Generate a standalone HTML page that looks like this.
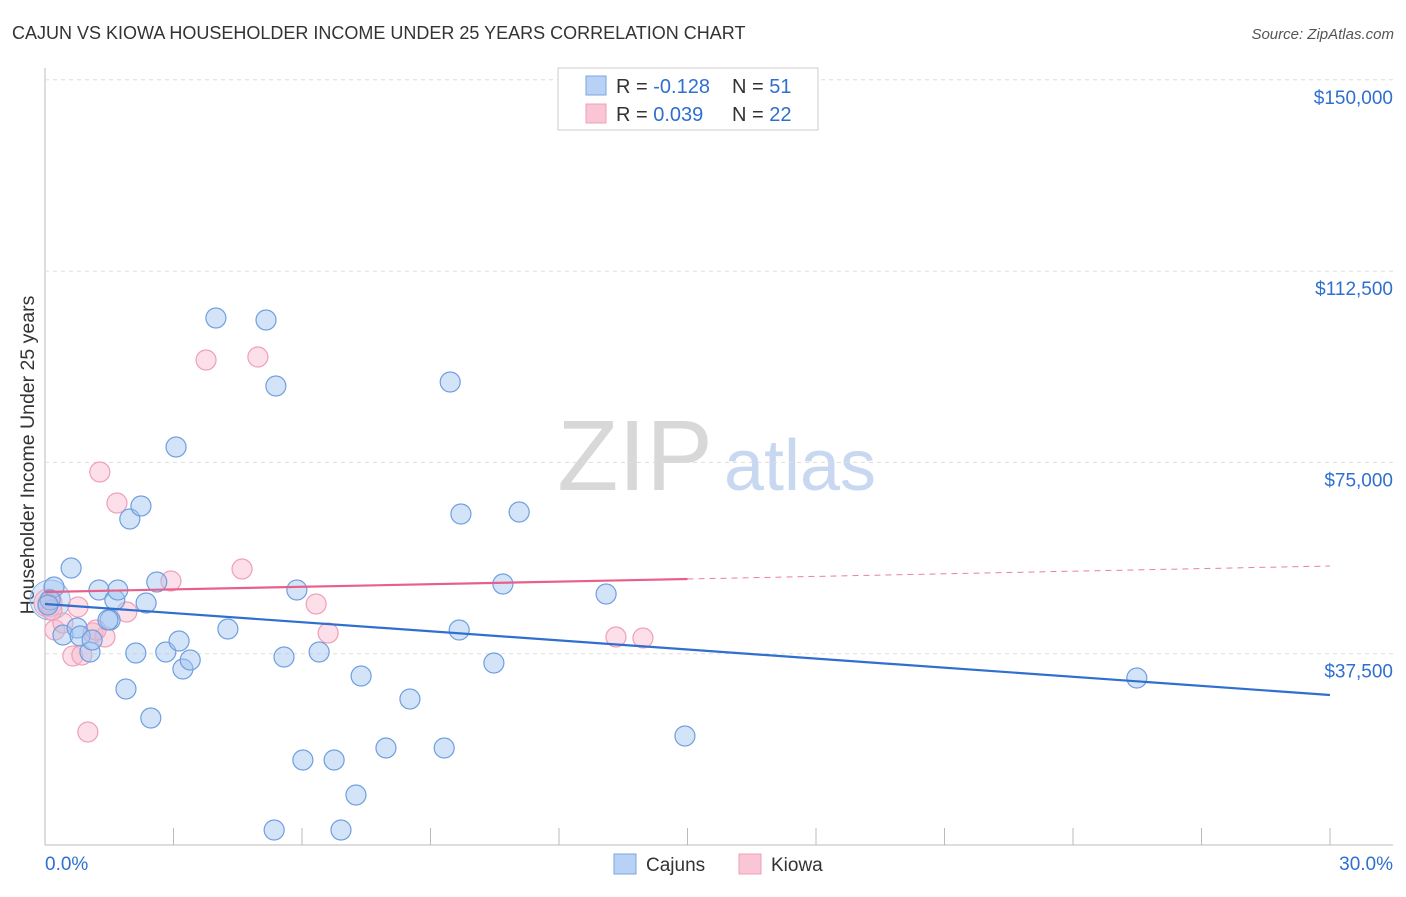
<!DOCTYPE html>
<html><head><meta charset="utf-8"><style>
body{margin:0;background:#fff;font-family:"Liberation Sans",sans-serif;}
svg text{font-family:"Liberation Sans",sans-serif;}
</style></head><body>
<svg id="c" width="1406" height="892">
<text x="12" y="39" font-size="18" fill="#333">CAJUN VS KIOWA HOUSEHOLDER INCOME UNDER 25 YEARS CORRELATION CHART</text>
<text x="1394" y="39" font-size="15" fill="#555" font-style="italic" text-anchor="end">Source: ZipAtlas.com</text>
<text x="34" y="455" font-size="19.5" fill="#333" text-anchor="middle" transform="rotate(-90 34 455)">Householder Income Under 25 years</text>
<g><text x="635" y="490" font-size="100" fill="#d8d8d8" font-family="Liberation Serif" text-anchor="middle">ZIP</text><text x="800" y="490" font-size="72" fill="#c8d8f0" text-anchor="middle">atlas</text></g>
<g id="grid"></g><g id="marks"></g>
<g>
<rect x="558" y="68" width="260" height="62" fill="#fff" stroke="#ccc"/>
<rect x="586" y="76" width="20" height="19" fill="#b8d2f5" stroke="#7aa6e0"/>
<rect x="586" y="104" width="20" height="19" fill="#fac5d5" stroke="#eea0b8"/>
<text x="616" y="93" font-size="20" fill="#333">R = <tspan fill="#2f6fd0">-0.128</tspan></text>
<text x="732" y="93" font-size="20" fill="#333">N = <tspan fill="#2f6fd0">51</tspan></text>
<text x="616" y="121" font-size="20" fill="#333">R = <tspan fill="#2f6fd0">0.039</tspan></text>
<text x="732" y="121" font-size="20" fill="#333">N = <tspan fill="#2f6fd0">22</tspan></text>
</g>
<g>
<rect x="614" y="854" width="22" height="20" fill="#b8d2f5" stroke="#7aa6e0"/><text x="646" y="871" font-size="19" fill="#333">Cajuns</text>
<rect x="739" y="854" width="22" height="20" fill="#fac5d5" stroke="#eea0b8"/><text x="771" y="871" font-size="19" fill="#333">Kiowa</text>
</g>
</svg>
<script>
const yTicks=[37500,75000,112500,150000];
const yTickLabels=["$37,500","$75,000","$112,500","$150,000"];
const xTickLabels=["0.0%","30.0%"];
const cajunX=[0.21,0.12,0.61,0.42,0.75,0.82,1.05,1.26,1.10,1.52,1.63,1.70,1.98,1.89,2.12,2.24,2.36,2.47,2.61,2.82,3.06,3.13,3.22,3.39,3.99,4.27,5.16,5.39,5.58,5.88,6.02,6.40,6.75,7.26,7.38,7.96,8.52,9.32,9.46,9.67,9.71,10.48,10.69,11.07,13.10,14.94,25.49,5.35,6.91,1.47,0.07];
const cajunY=[50576,48028,54300,41166,42539,40971,37834,49988,40186,44107,48028,49988,63906,30581,37638,66454,47440,24896,51556,37834,78020,39990,34501,36266,103308,42342,102916,89978,36854,49988,16663,37834,16663,9802,33129,19015,28620,19015,90762,42146,64886,35677,51164,65278,49203,21367,32737,2940,2940,44107,47047];
const kiowaX=[0.07,0.23,0.42,0.65,0.77,0.86,1.00,1.12,1.28,1.40,1.68,1.91,2.94,3.76,4.60,4.97,6.33,6.61,13.33,13.96,0.16,1.19];
const kiowaY=[47440,42146,43519,37050,46655,37246,22151,41558,73119,40774,67042,45675,51752,95074,54104,95662,47243,41558,40774,40578,46067,42146];
const cajunTrend=[47244,29405];
const kiowaTrend=[49596,54692];
const X=v=>45+v/30*1285, Y=v=>845-v/37500*191.3;
const NS="http://www.w3.org/2000/svg";
function mk(p,t,a){const e=document.createElementNS(NS,t);for(const k in a)e.setAttribute(k,a[k]);p.appendChild(e);return e;}
const g=document.getElementById('grid'), m=document.getElementById('marks');
mk(g,'line',{x1:45,y1:68,x2:45,y2:845,stroke:'#bbb'});
mk(g,'line',{x1:45,y1:845,x2:1393,y2:845,stroke:'#bbb'});
yTicks.forEach((v,i)=>{
 const l=mk(g,'line',{x1:45,y1:Y(v),x2:1393,y2:Y(v),stroke:'#ddd','stroke-dasharray':'4 4'});
 
 
 const t=mk(g,'text',{x:1393,y:Y(v)+24,'font-size':19,fill:'#2f6fd0','text-anchor':'end'});t.textContent=yTickLabels[i];
 
 
});
for(let i=1;i<=10;i++){const x=X(i*3);mk(g,'line',{x1:x,y1:828,x2:x,y2:845,stroke:'#bbb'});}
[[0,45,'start'],[1,1393,'end']].forEach(([i,x,a])=>{const t=mk(g,'text',{x:x,y:870,'font-size':19,fill:'#2f6fd0','text-anchor':a});t.textContent=xTickLabels[i];
 
 });
mk(m,'circle',{cx:X(0.12),cy:Y(48028),r:20,fill:'rgba(150,190,240,0.35)',stroke:'#8ab4ea'});
mk(m,'circle',{cx:X(0.07),cy:Y(47440),r:14,fill:'rgba(245,180,200,0.35)',stroke:'#eea0b8'});
kiowaX.forEach((x,i)=>{const c=mk(m,'circle',{cx:X(x),cy:Y(kiowaY[i]),r:10,fill:'rgba(248,185,205,0.45)',stroke:'#eea0b8','stroke-width':1.2});
 
 });
cajunX.forEach((x,i)=>{const c=mk(m,'circle',{cx:X(x),cy:Y(cajunY[i]),r:10,fill:'rgba(160,195,240,0.45)',stroke:'#6f9fdf','stroke-width':1.2});
 
 });
const bl=mk(m,'line',{x1:X(0),y1:Y(cajunTrend[0]),x2:X(30),y2:Y(cajunTrend[1]),stroke:'#2f6fd0','stroke-width':2.2});


const km=(kiowaTrend[0]+kiowaTrend[1])/2;
const pl=mk(m,'line',{x1:X(0),y1:Y(kiowaTrend[0]),x2:X(15),y2:Y(km),stroke:'#e8608a','stroke-width':2.2});


const pd=mk(m,'line',{x1:X(15),y1:Y(km),x2:X(30),y2:Y(kiowaTrend[1]),stroke:'#e8809f','stroke-width':1,'stroke-dasharray':'6 5'});


</script>
</body></html>
